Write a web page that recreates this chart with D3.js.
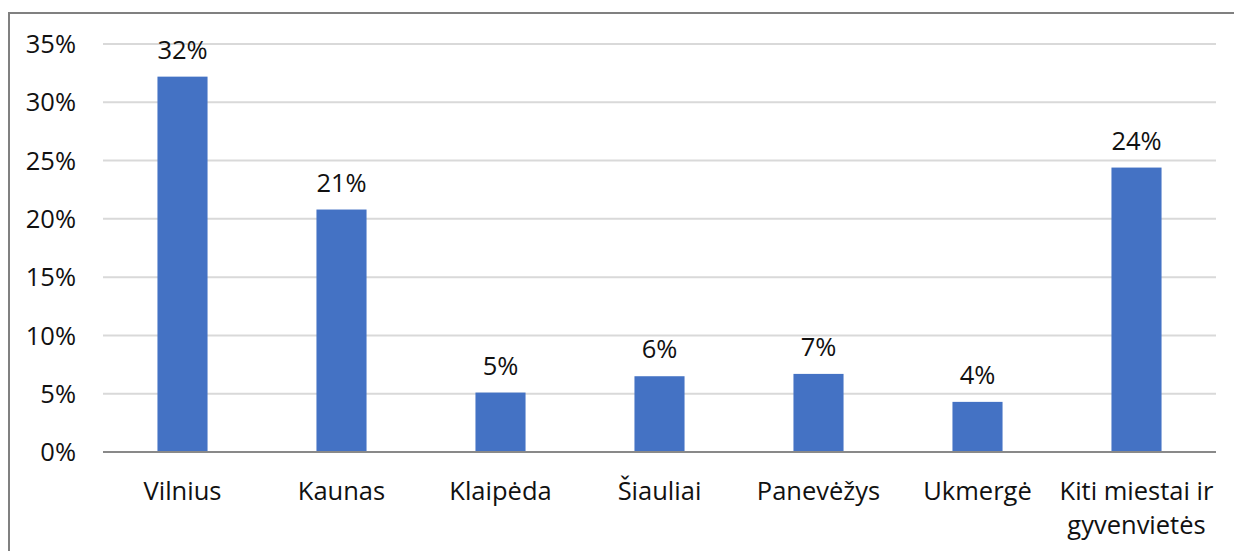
<!DOCTYPE html>
<html>
<head>
<meta charset="utf-8">
<script src="https://cdn.jsdelivr.net/npm/d3@7"></script>
<style>
  body { margin: 0; background: #fff; }
  text { font-family: "Open Sans", sans-serif; fill: #111; }
</style>
</head>
<body>
<div id="container"></div>
<script>
// data
var cities = ['Vilnius', 'Kaunas', 'Klaipėda', 'Šiauliai', 'Panevėžys', 'Ukmergė', 'Kiti miestai ir gyvenvietės'];
var shares = [32.2, 20.8, 5.1, 6.5, 6.7, 4.3, 24.4];
var valueLabels = ['32%', '21%', '5%', '6%', '7%', '4%', '24%'];
var yTicks = [0, 5, 10, 15, 20, 25, 30, 35];

var width = 1234;
var height = 551;
var margin = { left: 103, right: 18, top: 44, bottom: 99 };
var fontSize = '25.5px';

var svg = d3.select('#container')
    .append('svg')
    .attr('width', width)
    .attr('height', height);

// outer chart frame (right and bottom edges fall outside the window)
svg.append('rect')
    .attr('x', 9)
    .attr('y', 13)
    .attr('width', 1260)
    .attr('height', 600)
    .attr('fill', 'none')
    .attr('stroke', '#808080')
    .attr('stroke-width', 2);

var x = d3.scaleBand()
    .domain(cities)
    .range([margin.left, width - margin.right])
    .paddingInner(0.685)
    .paddingOuter(0.3425);

var y = d3.scaleLinear()
    .domain([0, 35])
    .range([height - margin.bottom, margin.top]);

// gridlines
svg.append('g')
    .selectAll('line')
    .data(yTicks.filter(d => d > 0))
    .enter()
    .append('line')
    .attr('x1', margin.left)
    .attr('x2', width - margin.right)
    .attr('y1', d => y(d))
    .attr('y2', d => y(d))
    .attr('stroke', '#d9d9d9')
    .attr('stroke-width', 2);

// y axis labels
svg.append('g')
    .selectAll('text')
    .data(yTicks)
    .enter()
    .append('text')
    .attr('x', 76)
    .attr('y', d => y(d))
    .attr('dy', '0.36em')
    .attr('text-anchor', 'end')
    .style('font-size', fontSize)
    .text(d => d + '%');

// bars
svg.append('g')
    .selectAll('rect')
    .data(shares)
    .enter()
    .append('rect')
    .attr('x', (d, i) => x(cities[i]))
    .attr('y', d => y(d))
    .attr('width', x.bandwidth())
    .attr('height', d => y(0) - y(d))
    .attr('fill', '#4472c4');

// baseline
svg.append('line')
    .attr('x1', margin.left)
    .attr('x2', width - margin.right)
    .attr('y1', y(0))
    .attr('y2', y(0))
    .attr('stroke', '#898989')
    .attr('stroke-width', 2);

// value labels
svg.append('g')
    .selectAll('text')
    .data(shares)
    .enter()
    .append('text')
    .attr('x', (d, i) => x(cities[i]) + x.bandwidth() / 2)
    .attr('y', d => y(d) - 18)
    .attr('text-anchor', 'middle')
    .style('font-size', fontSize)
    .text((d, i) => valueLabels[i]);

// category labels, the long one wraps onto two lines
var catLines = {
    'Kiti miestai ir gyvenvietės': ['Kiti miestai ir', 'gyvenvietės']
};
var cat = svg.append('g')
    .selectAll('text')
    .data(cities)
    .enter()
    .append('text')
    .attr('x', d => x(d) + x.bandwidth() / 2)
    .attr('y', 500)
    .attr('text-anchor', 'middle')
    .style('font-size', fontSize);
cat.each(function (d) {
    var lines = catLines[d] || [d];
    var t = d3.select(this);
    lines.forEach((l, k) => {
        t.append('tspan')
            .attr('x', x(d) + x.bandwidth() / 2)
            .attr('dy', k === 0 ? 0 : 34)
            .text(l);
    });
});
</script>
</body>
</html>
